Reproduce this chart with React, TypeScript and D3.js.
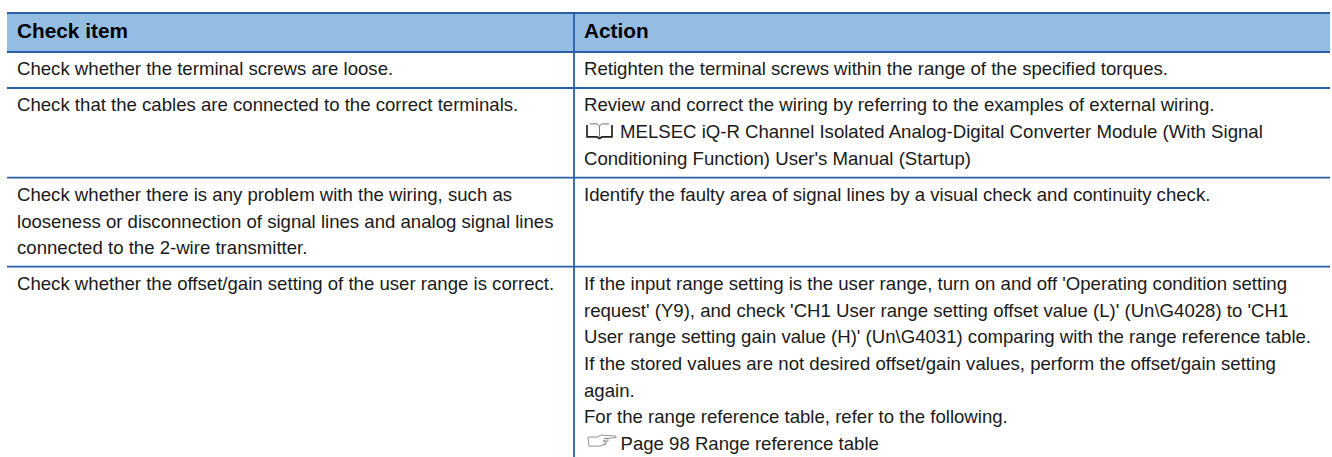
import React, { useRef, useEffect } from "react";
import * as d3 from "d3";

const headers = ["Check item", "Action"];

const checkItems: string[][] = [
  ["Check whether the terminal screws are loose."],
  ["Check that the cables are connected to the correct terminals."],
  [
    "Check whether there is any problem with the wiring, such as",
    "looseness or disconnection of signal lines and analog signal lines",
    "connected to the 2-wire transmitter.",
  ],
  ["Check whether the offset/gain setting of the user range is correct."],
];

const actions: string[][] = [
  ["Retighten the terminal screws within the range of the specified torques."],
  [
    "Review and correct the wiring by referring to the examples of external wiring.",
    "@book MELSEC iQ-R Channel Isolated Analog-Digital Converter Module (With Signal",
    "Conditioning Function) User's Manual (Startup)",
  ],
  ["Identify the faulty area of signal lines by a visual check and continuity check."],
  [
    "If the input range setting is the user range, turn on and off 'Operating condition setting",
    "request' (Y9), and check 'CH1 User range setting offset value (L)' (Un\\G4028) to 'CH1",
    "User range setting gain value (H)' (Un\\G4031) comparing with the range reference table.",
    "If the stored values are not desired offset/gain values, perform the offset/gain setting",
    "again.",
    "For the range reference table, refer to the following.",
    "@hand Page 98 Range reference table",
  ],
];

// horizontal rules, top to bottom
const ruleYs = [13, 52, 88, 177.7, 266.7];

const App: React.FC = () => {
  const svgRef = useRef<SVGSVGElement | null>(null);

  useEffect(() => {
    const width = 1332;
    const height = 457;
    const left = 7;
    const right = 1330;
    const colX = 574;
    const lineH = 26.7;
    const blue = "#2b5ca8";

    const svg = d3.select(svgRef.current).attr("width", width).attr("height", height);
    svg.selectAll("*").remove();

    svg.append("rect").attr("x", left).attr("y", ruleYs[0]).attr("width", right - left)
      .attr("height", ruleYs[1] - ruleYs[0]).attr("fill", "#93bde3");

    svg.selectAll("line.h").data(ruleYs).join("line").attr("class", "h")
      .attr("x1", left).attr("x2", right).attr("y1", (d) => d).attr("y2", (d) => d)
      .attr("stroke", blue).attr("stroke-width", 1.8);

    svg.append("line").attr("x1", colX).attr("x2", colX).attr("y1", ruleYs[0]).attr("y2", height)
      .attr("stroke", blue).attr("stroke-width", 1.8);

    const font = "'Liberation Sans', Arial, sans-serif";
    const textX = [17, 584];

    headers.forEach((h, i) => {
      svg.append("text").attr("x", textX[i]).attr("y", 38).attr("font-family", font)
        .attr("font-size", 20.8).attr("font-weight", "bold").attr("fill", "#000").text(h);
    });

    // book icon in front of manual references
    const drawBook = (x: number, y: number) => {
      const g = svg.append("g").attr("transform", `translate(${x},${y})`)
        .attr("fill", "none").attr("stroke", "#222").attr("stroke-width", 1);
      g.append("path").attr("d", "M0,-13V-1H10L12.5,0.5L15,-1H25V-13").attr("stroke-width", 1.7);
      g.append("path").attr("d", "M3,-14H10L12.5,-12V-1M22,-14H15L12.5,-12").attr("stroke", "#777");
    };

    // pointing hand icon in front of page references
    const drawHand = (x: number, y: number) => {
      const g = svg.append("g").attr("transform", `translate(${x},${y})`)
        .attr("fill", "none").attr("stroke", "#888").attr("stroke-width", 0.9);
      g.append("path").attr("d", "M0,-9L1,0H12L18,-2V-5H15M0,-9H9L13,-11L28,-10V-8.5L16,-7.5H20V-5H15M15,-2H18");
    };

    const drawLines = (lines: string[], x: number, top: number) => {
      lines.forEach((ln, j) => {
        const y = top + 23.2 + j * lineH;
        let tx = x;
        let s = ln;
        if (s.startsWith("@book ")) {
          drawBook(x + 3, y);
          tx = x + 36;
          s = s.slice(6);
        } else if (s.startsWith("@hand ")) {
          drawHand(x + 4, y - 4);
          tx = x + 36.5;
          s = s.slice(6);
        }
        svg.append("text").attr("x", tx).attr("y", y).attr("font-family", font)
          .attr("font-size", 18.6).attr("fill", "#1a1a1a").text(s);
      });
    };

    checkItems.forEach((lines, i) => drawLines(lines, textX[0], ruleYs[i + 1]));
    actions.forEach((lines, i) => drawLines(lines, textX[1], ruleYs[i + 1]));
  }, []);

  return <svg ref={svgRef} style={{ position: "absolute", left: 0, top: 0, background: "#fff" }} />;
};

export default App;
